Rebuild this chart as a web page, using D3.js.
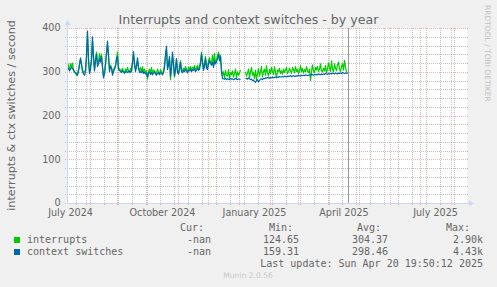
<!DOCTYPE html>
<html><head><meta charset="utf-8">
<script src="https://cdn.jsdelivr.net/npm/d3@7"></script>
<style>html,body{margin:0;padding:0;background:#F0F0F0;overflow:hidden}svg{display:block}</style>
</head><body>
<script>
// ---------- data ----------
const chartTitle = "Interrupts and context switches - by year";
const yAxisLabel = "interrupts & ctx switches / second";
const seriesNames = ["interrupts", "context switches"];
const seriesColors = ["#00CC00", "#0066B3"];
const dataStart = "2024-07-13";          // first daily sample
const domainStart = "2024-07-13";
const domainEnd = "2025-08-17";
const nowTime = "2025-04-20T19:50:12Z";
const yTicks = [0, 100, 200, 300, 400];
const labelMonths = ["2024-07-01", "2024-10-01", "2025-01-01", "2025-04-01", "2025-07-01"];
const labelTexts = ["July 2024", "October 2024", "January 2025", "April 2025", "July 2025"];
const minorGridAnchor = "2024-07-22";
const legendHeader = ["Cur:", "Min:", "Avg:", "Max:"];
const legendCur = ["-nan", "-nan"];
const legendMin = ["124.65", "159.31"];
const legendAvg = ["304.37", "298.46"];
const legendMax = ["2.90k", "4.43k"];
const lastUpdate = "Last update: Sun Apr 20 19:50:12 2025";
const versionText = "Munin 2.0.56";
const watermark = "RRDTOOL / TOBI OETIKER";

const interrupts = [
322,312,305,318,310,320,305,300,296,
292,298,305,318,328,
315,305,298,300,
305,330,385,325,300,310,325,370,330,305,330,345,318,322,342,325,340,312,290,300,318,340,360,335,305,315,310,298,305,310,315,330,345,310,
306,304,300,308,302,296,306,300,310,302,298,308,304,
325,340,315,305,318,325,308,302,
310,298,312,300,306,298,302,
283,
300,306,298,310,295,304,302,298,296,306,300,293,305,300,296,302,315,
335,350,310,318,330,282,312,335,318,288,310,328,300,298,310,325,305,
302,308,304,312,306,300,310,
306,312,304,310,308,314,303,310,315,306,312,322,
345,325,308,318,335,312,310,325,332,318,320,338,315,342,320,328,335,345,330,338,305,292,
300,285,303,292,290,305,284,298,294,302,288,296,306,286,300,292,297,304,
null,null,null,null,
300,290,297,306,286,300,310,292,298,285,304,282,296,308,290,300,312,288,
300,306,292,314,298,290,305,296,310,300,294,312,298,286,304,
300,308,296,302,294,306,298,304,310,296,300,308,302,296,310,
304,298,312,300,306,296,302,314,300,308,297,305,300,312,302,
298,306,280,300,316,302,298,310,304,312,300,306,318,302,300,
308,302,314,298,306,320,310,300,325,306,300,318,308,302,315,
322,306,300,312,318,304,326,310,300,296
];

const contextSwitches = [
305,308,302,306,310,308,303,300,298,
295,292,300,315,332,
318,300,295,292,
300,340,393,330,296,305,330,380,335,302,325,340,312,318,330,322,335,310,286,295,315,345,370,340,300,312,308,292,300,306,312,328,335,305,
303,300,298,302,300,297,299,301,298,300,302,299,301,
320,346,318,300,312,332,310,298,
300,298,302,296,299,295,297,
288,
296,300,294,298,293,297,300,295,292,296,298,294,299,296,293,297,310,
340,358,305,315,335,290,310,345,315,290,305,330,298,295,305,322,300,
298,303,300,306,301,297,304,
302,306,300,305,303,307,300,304,308,303,306,318,
340,320,303,312,330,308,305,318,326,320,315,322,310,325,318,322,330,340,325,335,300,284,
284,283,285,282,284,283,282,285,283,284,282,283,285,283,282,284,283,282,
null,null,null,null,
284,285,283,286,284,282,283,280,281,278,276,279,282,277,280,283,284,282,
285,284,286,285,287,286,285,287,286,288,286,287,288,287,288,
287,289,288,288,289,288,290,289,288,290,289,290,291,289,290,
291,290,289,291,290,292,291,290,292,291,292,291,293,292,291,
292,293,292,294,293,292,294,293,294,293,295,294,293,295,294,
295,294,296,295,294,296,295,296,295,297,296,295,297,296,295,
297,296,297,296,298,297,296,297,296,296
];

// ---------- layout ----------
const W = 497, H = 287;
const plot = {left: 67, right: 467, top: 28, bottom: 203};
const fontSans = "'DejaVu Sans', sans-serif";
const fontMono = "'DejaVu Sans Mono', monospace";
const textColor = "#666666";
const minorColor = "rgba(143,143,143,0.55)";
const majorColor = "rgba(222,79,79,0.42)";

const svg = d3.select("body").append("svg").attr("width", W).attr("height", H);
svg.append("rect").attr("width", W).attr("height", H).attr("fill", "#F0F0F0");

const x = d3.scaleUtc().domain([new Date(domainStart), new Date(domainEnd)]).range([plot.left, plot.right]);
const y = d3.scaleLinear().domain([0, 400]).range([plot.bottom, plot.top]);

// canvas
svg.append("rect").attr("x", plot.left).attr("y", plot.top)
  .attr("width", plot.right - plot.left).attr("height", plot.bottom - plot.top).attr("fill", "#FFFFFF");

const grid = svg.append("g").attr("shape-rendering", "crispEdges");
const px = v => Math.round(v) + 0.5;
// horizontal minor
d3.range(20, 400, 20).filter(v => v % 100 !== 0).forEach(v => {
  grid.append("line").attr("x1", plot.left - 2).attr("x2", plot.right + 1)
    .attr("y1", px(y(v))).attr("y2", px(y(v)))
    .attr("stroke", minorColor).attr("stroke-dasharray", "1,1");
});
// vertical minor (every two weeks)
const minorDates = d3.utcDay.every(1).range(new Date(minorGridAnchor), new Date(domainEnd)).filter((d, i) => i % 14 === 0);
minorDates.forEach(d => {
  const xv = px(x(d));
  if (xv <= plot.left || xv >= plot.right) return;
  grid.append("line").attr("x1", xv).attr("x2", xv).attr("y1", plot.top).attr("y2", plot.bottom + 2)
    .attr("stroke", minorColor).attr("stroke-dasharray", "1,1");
});
// horizontal major
yTicks.forEach(v => {
  grid.append("line").attr("x1", plot.left - 2).attr("x2", plot.right + 1)
    .attr("y1", px(y(v))).attr("y2", px(y(v)))
    .attr("stroke", majorColor).attr("stroke-dasharray", "1,1");
});
// vertical major (months)
d3.utcMonth.range(new Date(domainStart), new Date(domainEnd)).forEach(d => {
  const xv = px(x(d));
  grid.append("line").attr("x1", xv).attr("x2", xv).attr("y1", plot.top).attr("y2", plot.bottom + 3)
    .attr("stroke", majorColor).attr("stroke-dasharray", "1,1");
});

// series
const t0 = new Date(dataStart);
const dayDate = i => d3.utcDay.offset(t0, i);
const line = d3.line().defined(d => d != null).x((d, i) => x(dayDate(i)) + 0.5).y(d => y(d));
[interrupts, contextSwitches].forEach((s, k) => {
  svg.append("path").datum(s).attr("d", line).attr("fill", "none")
    .attr("stroke", seriesColors[k]).attr("stroke-width", 1.2).attr("stroke-linejoin", "round");
});

// now line
const nx = Math.floor(x(new Date(nowTime))) + 0.5;
svg.append("line").attr("x1", nx).attr("x2", nx).attr("y1", plot.top).attr("y2", plot.bottom)
  .attr("stroke", "#999999").attr("stroke-width", 1);

// axes
const axisColor = "#CFD6F8";
svg.append("line").attr("x1", plot.left + 0.5).attr("x2", plot.left + 0.5).attr("y1", plot.bottom).attr("y2", plot.top - 4)
  .attr("stroke", axisColor);
svg.append("path").attr("d", `M${plot.left - 2.5},${plot.top - 3} L${plot.left + 3.5},${plot.top - 3} L${plot.left + 0.5},${plot.top - 8} Z`).attr("fill", axisColor);
svg.append("line").attr("x1", plot.left).attr("x2", plot.right + 4).attr("y1", plot.bottom + 0.5).attr("y2", plot.bottom + 0.5)
  .attr("stroke", axisColor);
svg.append("path").attr("d", `M${plot.right + 2},${plot.bottom - 2.5} L${plot.right + 2},${plot.bottom + 3.5} L${plot.right + 7},${plot.bottom + 0.5} Z`).attr("fill", axisColor);

// y tick labels
yTicks.forEach(v => {
  svg.append("text").attr("x", 60.5).attr("y", y(v) + 3.3).attr("text-anchor", "end")
    .attr("font-family", fontSans).attr("font-size", 9.6).attr("fill", textColor).text(v);
});
// x labels (centered on month)
labelMonths.forEach((m, i) => {
  const a = new Date(m), b = d3.utcMonth.offset(a, 1);
  const cx = (x(a) + x(b)) / 2;
  svg.append("text").attr("x", cx).attr("y", 215.5).attr("text-anchor", "middle")
    .attr("font-family", fontSans).attr("font-size", 9.6).attr("fill", textColor).text(labelTexts[i]);
});

// title
svg.append("text").attr("x", 248.5).attr("y", 24).attr("text-anchor", "middle")
  .attr("font-family", fontSans).attr("font-size", 12.6).attr("fill", textColor).text(chartTitle);
// y axis label
svg.append("text").attr("transform", `translate(14.5,${(plot.top + plot.bottom) / 2}) rotate(-90)`)
  .attr("text-anchor", "middle").attr("font-family", fontSans).attr("font-size", 11.2).attr("fill", textColor).text(yAxisLabel);
// watermark
svg.append("text").attr("transform", "translate(485,5) rotate(90)")
  .attr("font-family", fontSans).attr("font-size", 7.5).attr("fill", "#C0C0C0").text(watermark);

// legend
const legendEnds = [204, 293, 381, 470];
const valueEnds = [211, 299, 388, 483];
legendHeader.forEach((h, i) => {
  svg.append("text").attr("x", legendEnds[i]).attr("y", 231).attr("text-anchor", "end")
    .attr("font-family", fontMono).attr("font-size", 10).attr("fill", textColor).text(h);
});
seriesNames.forEach((n, k) => {
  const by = 243 + k * 12;
  svg.append("rect").attr("x", 14).attr("y", by - 6).attr("width", 6).attr("height", 6).attr("fill", seriesColors[k]);
  svg.append("text").attr("x", 27).attr("y", by).attr("font-family", fontMono).attr("font-size", 10).attr("fill", textColor).text(n);
  [legendCur[k], legendMin[k], legendAvg[k], legendMax[k]].forEach((v, i) => {
    svg.append("text").attr("x", valueEnds[i]).attr("y", by).attr("text-anchor", "end")
      .attr("font-family", fontMono).attr("font-size", 10).attr("fill", textColor).text(v);
  });
});
svg.append("text").attr("x", 483).attr("y", 267).attr("text-anchor", "end")
  .attr("font-family", fontMono).attr("font-size", 10).attr("fill", textColor).text(lastUpdate);
svg.append("text").attr("x", 248).attr("y", 278).attr("text-anchor", "middle")
  .attr("font-family", fontSans).attr("font-size", 7.6).attr("fill", "#C8C8C8").text(versionText);
</script>
</body></html>
